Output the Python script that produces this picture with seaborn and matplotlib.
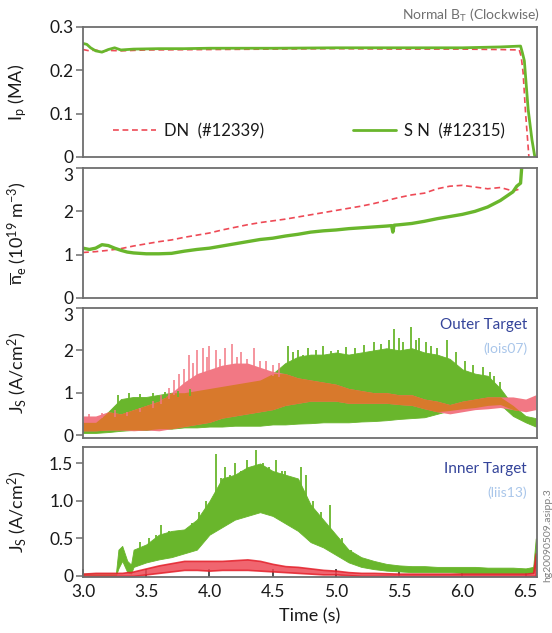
import numpy as np
import matplotlib
matplotlib.use("Agg")
import matplotlib.pyplot as plt
import seaborn as sns

# ---------------- data ----------------
# Panel 1: plasma current Ip (MA)
ip_sn_t = [3.0, 3.03, 3.06, 3.1, 3.15, 3.2, 3.25, 3.3, 3.4, 3.6, 3.8, 4.0, 4.5, 5.0, 5.5, 6.0, 6.3, 6.46, 6.475, 6.49, 6.52, 6.55, 6.573]
ip_sn = [0.262, 0.260, 0.252, 0.245, 0.242, 0.248, 0.252, 0.247, 0.249, 0.250, 0.250, 0.251, 0.251, 0.252, 0.252, 0.252, 0.254, 0.256, 0.240, 0.222, 0.110, 0.040, 0.0]
ip_dn_t = [3.0, 3.05, 3.1, 3.15, 3.2, 3.3, 3.5, 4.0, 4.5, 5.0, 5.5, 6.0, 6.3, 6.45, 6.465, 6.48, 6.5, 6.526]
ip_dn = [0.248, 0.245, 0.247, 0.243, 0.246, 0.245, 0.247, 0.248, 0.249, 0.250, 0.249, 0.249, 0.248, 0.247, 0.232, 0.195, 0.100, 0.0]

# Panel 2: line-averaged density (1e19 m^-3)
ne_dn_t = [3.0, 3.1, 3.2, 3.3, 3.4, 3.5, 3.6, 3.7, 3.8, 3.9, 4.0, 4.1, 4.2, 4.3, 4.4, 4.5, 4.6, 4.7,
           4.8, 4.9, 5.0, 5.1, 5.2, 5.3, 5.4, 5.5, 5.6, 5.7, 5.8, 5.9, 6.0, 6.1, 6.2, 6.3, 6.4, 6.46]
ne_dn = [1.05, 1.07, 1.10, 1.14, 1.20, 1.25, 1.30, 1.34, 1.40, 1.45, 1.50, 1.57, 1.63, 1.69, 1.74, 1.78, 1.82, 1.87,
         1.92, 1.97, 2.02, 2.07, 2.12, 2.18, 2.25, 2.32, 2.38, 2.42, 2.52, 2.58, 2.60, 2.56, 2.52, 2.55, 2.47, 2.52]
ne_sn_t = [3.0, 3.05, 3.1, 3.15, 3.2, 3.25, 3.3, 3.35, 3.4, 3.5, 3.6, 3.7, 3.8, 3.9, 4.0, 4.1, 4.2, 4.3, 4.4,
           4.5, 4.6, 4.7, 4.8, 4.9, 5.0, 5.1, 5.2, 5.3, 5.4, 5.44, 5.45, 5.46, 5.5, 5.6, 5.7, 5.8, 5.9, 6.0,
           6.1, 6.2, 6.3, 6.4, 6.43, 6.46, 6.47]
ne_sn = [1.15, 1.12, 1.15, 1.23, 1.21, 1.15, 1.10, 1.06, 1.04, 1.02, 1.02, 1.03, 1.08, 1.12, 1.15, 1.20, 1.25, 1.30, 1.35,
         1.38, 1.43, 1.47, 1.52, 1.55, 1.57, 1.60, 1.62, 1.64, 1.66, 1.67, 1.52, 1.68, 1.69, 1.72, 1.77, 1.83, 1.88, 1.93,
         2.00, 2.10, 2.25, 2.45, 2.58, 2.65, 3.05]

# Panel 3: outer target Js (A/cm^2), envelopes of the fluctuating signals
t_out = [3.0, 3.1, 3.2, 3.3, 3.4, 3.5, 3.6, 3.7, 3.8, 3.9, 4.0, 4.1, 4.2, 4.3, 4.4, 4.5, 4.6, 4.7, 4.8,
         4.9, 5.0, 5.1, 5.2, 5.3, 5.4, 5.5, 5.6, 5.7, 5.8, 5.9, 6.0, 6.1, 6.2, 6.3, 6.4, 6.5, 6.58]
out_sn_hi = [0.30, 0.30, 0.55, 0.85, 0.90, 0.90, 0.95, 1.00, 1.00, 1.05, 1.10, 1.15, 1.20, 1.25, 1.30, 1.45, 1.70, 1.85, 1.90,
             1.90, 1.95, 1.90, 1.95, 2.00, 2.05, 2.00, 2.05, 1.95, 1.90, 1.80, 1.55, 1.45, 1.40, 1.10, 0.70, 0.45, 0.40]
out_sn_lo = [0.05, 0.05, 0.07, 0.10, 0.12, 0.12, 0.15, 0.15, 0.18, 0.18, 0.20, 0.20, 0.22, 0.22, 0.22, 0.25, 0.25, 0.27, 0.28,
             0.30, 0.30, 0.30, 0.32, 0.33, 0.35, 0.38, 0.40, 0.42, 0.50, 0.58, 0.62, 0.65, 0.70, 0.72, 0.45, 0.30, 0.20]
out_dn_hi = [0.45, 0.45, 0.55, 0.50, 0.60, 0.70, 0.80, 1.00, 1.25, 1.45, 1.55, 1.65, 1.70, 1.70, 1.60, 1.50, 1.45, 1.35, 1.30,
             1.25, 1.20, 1.10, 1.05, 1.00, 1.00, 0.95, 0.95, 0.85, 0.80, 0.72, 0.80, 0.85, 0.90, 0.90, 0.90, 0.85, 0.95]
out_dn_lo = [0.10, 0.10, 0.12, 0.12, 0.10, 0.12, 0.10, 0.15, 0.20, 0.25, 0.30, 0.40, 0.45, 0.50, 0.55, 0.60, 0.70, 0.75, 0.80,
             0.80, 0.80, 0.75, 0.75, 0.75, 0.75, 0.72, 0.70, 0.62, 0.55, 0.50, 0.55, 0.60, 0.62, 0.65, 0.60, 0.55, 0.60]
out_sn_spike_t = [3.28, 3.36, 3.45, 3.55, 3.65, 3.75, 3.85, 4.62, 4.66, 4.70, 4.74, 4.78, 4.84, 4.90, 4.96, 5.02, 5.08,
                  5.15, 5.22, 5.30, 5.36, 5.42, 5.46, 5.50, 5.53, 5.59, 5.63, 5.66, 5.71, 5.75, 5.80, 5.88, 5.95,
                  6.02, 6.08, 6.16, 6.22, 6.25, 6.30]
out_sn_spike = [0.95, 1.00, 0.98, 1.00, 1.02, 1.05, 1.08, 2.10, 1.95, 2.00, 1.90, 2.05, 2.00, 2.10, 1.98, 2.00, 2.08,
                2.05, 2.12, 2.20, 2.15, 2.25, 2.50, 2.30, 2.20, 2.55, 2.25, 2.30, 2.20, 2.10, 2.05, 2.25, 1.95,
                1.75, 1.65, 1.60, 1.50, 1.40, 1.25]
out_dn_spike_t = [3.05, 3.15, 3.25, 3.35, 3.45, 3.55, 3.62, 3.68, 3.72, 3.76, 3.80, 3.84, 3.87, 3.90, 3.95, 3.98, 4.00,
                  4.05, 4.08, 4.12, 4.18, 4.22, 4.25, 4.30, 4.35, 4.40, 4.45, 4.50, 4.55]
out_dn_spike = [0.50, 0.52, 0.58, 0.55, 0.65, 0.80, 0.95, 1.10, 1.30, 1.45, 1.55, 1.90, 1.70, 2.00, 2.05, 1.85, 2.10,
                2.00, 1.80, 2.05, 2.15, 1.85, 1.95, 1.80, 2.05, 1.75, 1.75, 1.65, 1.70]

# Panel 4: inner target Js (A/cm^2)
t_in = [3.0, 3.1, 3.2, 3.26, 3.28, 3.31, 3.35, 3.38,
        3.4, 3.5, 3.6, 3.7, 3.8, 3.9, 4.0, 4.1, 4.2, 4.3, 4.4, 4.5, 4.6, 4.7, 4.8, 4.9, 5.0, 5.1,
        5.2, 5.3, 5.4, 5.5, 5.6, 5.7, 5.8, 5.9, 6.0, 6.1, 6.2, 6.3, 6.4, 6.5,
        6.56, 6.58]
in_sn_hi = [0.03, 0.03, 0.03, 0.03, 0.35, 0.40, 0.20, 0.15,
            0.35, 0.42, 0.55, 0.60, 0.62, 0.75, 1.00, 1.30, 1.35, 1.45, 1.50, 1.40, 1.35, 1.30, 0.95, 0.75, 0.55, 0.35,
            0.25, 0.20, 0.16, 0.14, 0.13, 0.13, 0.12, 0.12, 0.12, 0.12, 0.11, 0.11, 0.11, 0.10,
            0.12, 0.50]
in_sn_lo = [0.0, 0.0, 0.0, 0.0, 0.10, 0.20, 0.05, 0.03,
            0.12, 0.18, 0.22, 0.25, 0.30, 0.35, 0.55, 0.65, 0.75, 0.80, 0.85, 0.80, 0.70, 0.60, 0.45, 0.38, 0.28, 0.18,
            0.12, 0.09, 0.07, 0.06, 0.05, 0.05, 0.05, 0.05, 0.04, 0.04, 0.04, 0.04, 0.04, 0.04,
            0.04, 0.10]
in_dn_hi = [0.03, 0.04, 0.04, 0.04, 0.04, 0.04, 0.05, 0.05,
            0.06, 0.10, 0.14, 0.17, 0.20, 0.20, 0.20, 0.20, 0.21, 0.22, 0.20, 0.16, 0.13, 0.12, 0.10, 0.08, 0.07, 0.05,
            0.04, 0.04, 0.035, 0.03, 0.03, 0.03, 0.03, 0.03, 0.03, 0.03, 0.03, 0.03, 0.03, 0.03,
            0.04, 0.30]
in_dn_lo = [0.0, 0.0, 0.0, 0.0, 0.0, 0.0, 0.0, 0.0,
            0.0, 0.02, 0.04, 0.06, 0.08, 0.08, 0.07, 0.08, 0.08, 0.08, 0.07, 0.06, 0.05, 0.04, 0.03, 0.02, 0.02, 0.01,
            0.0, 0.0, 0.0, 0.0, 0.0, 0.0, 0.0, 0.0, 0.0, 0.0, 0.0, 0.0, 0.0, 0.0,
            0.0, 0.0]
in_sn_spike_t = [3.45, 3.52, 3.58, 3.62, 3.68, 3.78, 3.86, 3.92, 3.97, 4.05, 4.09, 4.12, 4.16, 4.20, 4.25, 4.30, 4.34,
                 4.37, 4.42, 4.47, 4.53, 4.57, 4.60, 4.66, 4.72, 4.76, 4.82, 4.88, 4.95, 5.05, 5.12]
in_sn_spike = [0.45, 0.50, 0.55, 0.68, 0.60, 0.60, 0.70, 0.85, 1.00, 1.62, 1.30, 1.45, 1.35, 1.50, 1.40, 1.55, 1.45,
               1.68, 1.50, 1.45, 1.55, 1.40, 1.40, 1.30, 1.45, 1.35, 1.00, 0.85, 0.95, 0.50, 0.35]

x_ticks = [3.0, 3.5, 4.0, 4.5, 5.0, 5.5, 6.0, 6.5]
x_ticklabels = ["3.0", "3.5", "4.0", "4.5", "5.0", "5.5", "6.0", "6.5"]

legend_dn = "DN  (#12339)"
legend_sn = "S N  (#12315)"

# ---------------- styling ----------------
sns.set_theme(style="white")
FONT = ["Lato", "DejaVu Sans"]
plt.rcParams["font.family"] = FONT
plt.rcParams["mathtext.fontset"] = "custom"
plt.rcParams["mathtext.rm"] = "Lato"
plt.rcParams["mathtext.it"] = "Lato:italic"
plt.rcParams["mathtext.bf"] = "Lato:bold"
plt.rcParams["mathtext.default"] = "regular"

GREEN = "#69b62c"
RED = "#ee4a56"
PINK = "#f27884"
ORANGE = "#d8792c"
SPINE = "#6e6e6e"
TXT = "#1a1a1a"
TICKSIZE = 12.5

fig = plt.figure(figsize=(5.52, 6.33), dpi=100)
L, W, H = 83 / 552, 454 / 552, 130 / 633
bottoms_px = [157, 298, 438, 577]
axes = [fig.add_axes([L, 1 - b / 633, W, H]) for b in bottoms_px]

XMIN, XMAX = 3.0, 6.59
for ax in axes:
    ax.set_xlim(XMIN, XMAX)
    for s in ax.spines.values():
        s.set_color(SPINE)
        s.set_linewidth(1.3)
    ax.tick_params(axis="y", direction="out", length=5, width=1.1, color=SPINE,
                   labelsize=TICKSIZE, labelcolor=TXT, pad=2, left=True)
    ax.set_xticks(x_ticks)
    ax.tick_params(axis="x", bottom=False, labelbottom=False)

# Panel 1
ax = axes[0]
sns.lineplot(x=ip_dn_t, y=ip_dn, ax=ax, color=RED, lw=1.2, label=legend_dn)
ax.lines[-1].set_dashes([3.5, 2.2])
sns.lineplot(x=ip_sn_t, y=ip_sn, ax=ax, color=GREEN, lw=2.0, label=legend_sn)
ax.set_ylim(0, 0.3)
ax.set_yticks([0, 0.1, 0.2, 0.3])
ax.set_yticklabels(["0", "0.1", "0.2", "0.3"])
ax.set_ylabel(r"I$_p$ (MA)", fontsize=13, color=TXT)
leg = ax.legend(ncol=2, loc="center left", bbox_to_anchor=(0.065, 0.2), frameon=False,
                fontsize=12, handlelength=2.6, handletextpad=0.5, columnspacing=5.3,
                borderaxespad=0, borderpad=0)
for t in leg.get_texts():
    t.set_color(TXT)
fig.text(540 / 552, 1 - 15 / 633, r"Normal B$_T$ (Clockwise)", ha="right", va="center",
         fontsize=10, color="#707070")

# Panel 2
ax = axes[1]
sns.lineplot(x=ne_dn_t, y=ne_dn, ax=ax, color=RED, lw=1.2)
ax.lines[-1].set_dashes([3.5, 2.2])
sns.lineplot(x=ne_sn_t, y=ne_sn, ax=ax, color=GREEN, lw=2.4)
ax.set_ylim(0, 3)
ax.set_yticks([0, 1, 2, 3])
ax.set_yticklabels(["0", "1", "2", "3"])
ax.set_ylabel(r"$\overline{\mathrm{n}}_e$ (10$^{19}$ m$^{-3}$)", fontsize=13, color=TXT)

# Panel 3
ax = axes[2]
t_o = np.array(t_out)
ax.fill_between(t_o, out_sn_lo, out_sn_hi, color=GREEN, lw=0.6, edgecolor=GREEN)
ax.vlines(out_sn_spike_t, np.interp(out_sn_spike_t, t_o, out_sn_hi) - 0.1, out_sn_spike,
          color=GREEN, lw=1.3)
ax.vlines(out_dn_spike_t, np.interp(out_dn_spike_t, t_o, out_dn_hi) - 0.1, out_dn_spike,
          color=PINK, lw=1.1)
ax.fill_between(t_o, out_dn_lo, out_dn_hi, color=PINK, lw=0)
ov_lo = np.maximum(out_sn_lo, out_dn_lo)
ov_hi = np.minimum(out_sn_hi, out_dn_hi)
ax.fill_between(t_o, ov_lo, ov_hi, where=ov_hi > ov_lo, interpolate=True, color=ORANGE, lw=0)
ax.set_ylim(-0.07, 3.0)
ax.set_yticks([0, 1, 2, 3])
ax.set_yticklabels(["0", "1", "2", "3"])
ax.set_ylabel(r"J$_S$ (A/cm$^2$)", fontsize=13, color=TXT)
ax.text(0.978, 0.87, "Outer Target", transform=ax.transAxes, ha="right", va="center",
        fontsize=11, color="#34449a")
ax.text(0.978, 0.69, "(lois07)", transform=ax.transAxes, ha="right", va="center",
        fontsize=10, color="#a9c6ea")

# Panel 4
ax = axes[3]
t_i = np.array(t_in)
ax.fill_between(t_i, in_sn_lo, in_sn_hi, color=GREEN, lw=0.6, edgecolor=GREEN)
ax.vlines(in_sn_spike_t, np.interp(in_sn_spike_t, t_i, in_sn_hi) - 0.05, in_sn_spike,
          color=GREEN, lw=1.3)
ax.fill_between(t_i, in_dn_lo, in_dn_hi, color=RED, alpha=0.85, lw=1.2, edgecolor="#e3202a")
ax.set_ylim(-0.015, 1.72)
ax.set_yticks([0, 0.5, 1.0, 1.5])
ax.set_yticklabels(["0", "0.5", "1.0", "1.5"])
ax.set_ylabel(r"J$_S$ (A/cm$^2$)", fontsize=13, color=TXT)
ax.text(0.978, 0.83, "Inner Target", transform=ax.transAxes, ha="right", va="center",
        fontsize=11, color="#34449a")
ax.text(0.978, 0.65, "(liis13)", transform=ax.transAxes, ha="right", va="center",
        fontsize=10, color="#a9c6ea")
ax.tick_params(axis="x", bottom=True, labelbottom=True, direction="in", length=6, width=1.1,
               color="#222222", labelsize=TICKSIZE, labelcolor=TXT, pad=5)
ax.set_xticklabels(x_ticklabels)
ax.set_xlabel("Time (s)", fontsize=13, color=TXT, labelpad=6)

for ax in axes:
    ax.yaxis.set_label_coords(-0.12, 0.5)

# top "3" labels of panels 2 and 3 sit just below the top edge, as in the reference
for ax in (axes[1], axes[2]):
    ax.get_yticklabels()[-1].set_verticalalignment("top")

fig.text(548 / 552, 1 - 535 / 633, "hg20090509.asipp.3", rotation=90, ha="center", va="center",
         fontsize=7.5, color="#808080")

fig.savefig("out.png", dpi=100)
